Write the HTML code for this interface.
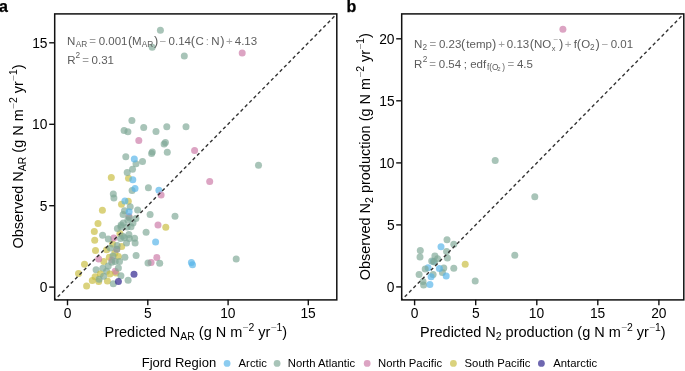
<!DOCTYPE html>
<html><head><meta charset="utf-8"><style>
html,body{margin:0;padding:0;background:#fff;}
svg{display:block;will-change:transform;}
text{font-family:"Liberation Sans",sans-serif;}
</style></head><body>
<svg width="685" height="371" viewBox="0 0 685 371">
<rect width="685" height="371" fill="#fff"/>
<defs>
<clipPath id="ca"><rect x="54.7" y="13.9" width="282.1" height="286"/></clipPath>
<clipPath id="cb"><rect x="401.7" y="13.9" width="282.1" height="286"/></clipPath>
</defs>
<text x="-0.9" y="11.8" font-size="16" font-weight="bold" stroke="#000" stroke-width="0.25">a</text>
<text x="346.5" y="11.7" font-size="16" font-weight="bold" stroke="#000" stroke-width="0.25">b</text>
<g clip-path="url(#ca)" fill-opacity="0.68">
<circle cx="129.0" cy="216.4" r="3.5" fill="#CC79A7"/>
<circle cx="111.3" cy="177.4" r="3.5" fill="#c9bd40"/>
<circle cx="128.5" cy="178.2" r="3.5" fill="#c9bd40"/>
<circle cx="128.3" cy="201.2" r="3.5" fill="#c9bd40"/>
<circle cx="121.5" cy="204.2" r="3.5" fill="#c9bd40"/>
<circle cx="102.4" cy="210.2" r="3.5" fill="#c9bd40"/>
<circle cx="98.0" cy="223.5" r="3.5" fill="#c9bd40"/>
<circle cx="165.8" cy="227.2" r="3.5" fill="#c9bd40"/>
<circle cx="94.3" cy="231.6" r="3.5" fill="#c9bd40"/>
<circle cx="119.9" cy="233.6" r="3.5" fill="#c9bd40"/>
<circle cx="94.7" cy="240.2" r="3.5" fill="#c9bd40"/>
<circle cx="112.6" cy="244.0" r="3.5" fill="#c9bd40"/>
<circle cx="121.7" cy="246.6" r="3.5" fill="#c9bd40"/>
<circle cx="106.6" cy="249.8" r="3.5" fill="#c9bd40"/>
<circle cx="95.5" cy="250.6" r="3.5" fill="#c9bd40"/>
<circle cx="114.8" cy="253.1" r="3.5" fill="#c9bd40"/>
<circle cx="109.3" cy="257.2" r="3.5" fill="#c9bd40"/>
<circle cx="118.4" cy="256.6" r="3.5" fill="#c9bd40"/>
<circle cx="103.8" cy="261.6" r="3.5" fill="#c9bd40"/>
<circle cx="84.5" cy="264.2" r="3.5" fill="#c9bd40"/>
<circle cx="78.5" cy="273.6" r="3.5" fill="#c9bd40"/>
<circle cx="116.0" cy="272.9" r="3.5" fill="#c9bd40"/>
<circle cx="92.3" cy="280.6" r="3.5" fill="#c9bd40"/>
<circle cx="86.6" cy="285.9" r="3.5" fill="#c9bd40"/>
<circle cx="242.2" cy="53.1" r="3.5" fill="#CC79A7"/>
<circle cx="138.8" cy="140.4" r="3.5" fill="#CC79A7"/>
<circle cx="194.6" cy="150.5" r="3.5" fill="#CC79A7"/>
<circle cx="209.7" cy="181.6" r="3.5" fill="#CC79A7"/>
<circle cx="158.0" cy="224.9" r="3.5" fill="#CC79A7"/>
<circle cx="113.8" cy="238.0" r="3.5" fill="#CC79A7"/>
<circle cx="116.8" cy="249.2" r="3.5" fill="#CC79A7"/>
<circle cx="156.8" cy="257.4" r="3.5" fill="#CC79A7"/>
<circle cx="98.7" cy="259.1" r="3.5" fill="#CC79A7"/>
<circle cx="112.0" cy="259.9" r="3.5" fill="#CC79A7"/>
<circle cx="151.1" cy="262.6" r="3.5" fill="#CC79A7"/>
<circle cx="115.2" cy="271.2" r="3.5" fill="#CC79A7"/>
<circle cx="160.4" cy="30.2" r="3.5" fill="#7fa897"/>
<circle cx="152.2" cy="47.2" r="3.5" fill="#7fa897"/>
<circle cx="184.3" cy="56.1" r="3.5" fill="#7fa897"/>
<circle cx="131.9" cy="120.5" r="3.5" fill="#7fa897"/>
<circle cx="124.1" cy="130.5" r="3.5" fill="#7fa897"/>
<circle cx="127.9" cy="131.8" r="3.5" fill="#7fa897"/>
<circle cx="143.7" cy="127.5" r="3.5" fill="#7fa897"/>
<circle cx="156.0" cy="131.5" r="3.5" fill="#7fa897"/>
<circle cx="166.8" cy="126.8" r="3.5" fill="#7fa897"/>
<circle cx="186.0" cy="126.8" r="3.5" fill="#7fa897"/>
<circle cx="165.4" cy="142.6" r="3.5" fill="#7fa897"/>
<circle cx="164.1" cy="143.9" r="3.5" fill="#7fa897"/>
<circle cx="152.3" cy="152.0" r="3.5" fill="#7fa897"/>
<circle cx="151.6" cy="153.6" r="3.5" fill="#7fa897"/>
<circle cx="167.3" cy="152.2" r="3.5" fill="#7fa897"/>
<circle cx="125.8" cy="156.8" r="3.5" fill="#7fa897"/>
<circle cx="142.5" cy="161.4" r="3.5" fill="#7fa897"/>
<circle cx="258.5" cy="165.2" r="3.5" fill="#7fa897"/>
<circle cx="136.0" cy="163.7" r="3.5" fill="#7fa897"/>
<circle cx="132.5" cy="169.2" r="3.5" fill="#7fa897"/>
<circle cx="127.2" cy="172.4" r="3.5" fill="#7fa897"/>
<circle cx="132.1" cy="190.4" r="3.5" fill="#7fa897"/>
<circle cx="148.4" cy="187.8" r="3.5" fill="#7fa897"/>
<circle cx="113.3" cy="194.1" r="3.5" fill="#7fa897"/>
<circle cx="113.9" cy="198.1" r="3.5" fill="#7fa897"/>
<circle cx="130.2" cy="206.7" r="3.5" fill="#7fa897"/>
<circle cx="124.5" cy="210.7" r="3.5" fill="#7fa897"/>
<circle cx="137.6" cy="210.1" r="3.5" fill="#7fa897"/>
<circle cx="150.1" cy="214.4" r="3.5" fill="#7fa897"/>
<circle cx="123.1" cy="214.6" r="3.5" fill="#7fa897"/>
<circle cx="135.9" cy="218.6" r="3.5" fill="#7fa897"/>
<circle cx="127.9" cy="220.0" r="3.5" fill="#7fa897"/>
<circle cx="129.3" cy="217.8" r="3.5" fill="#7fa897"/>
<circle cx="175.0" cy="216.2" r="3.5" fill="#7fa897"/>
<circle cx="123.3" cy="223.1" r="3.5" fill="#7fa897"/>
<circle cx="133.0" cy="223.1" r="3.5" fill="#7fa897"/>
<circle cx="121.1" cy="224.9" r="3.5" fill="#7fa897"/>
<circle cx="127.1" cy="227.0" r="3.5" fill="#7fa897"/>
<circle cx="117.4" cy="228.6" r="3.5" fill="#7fa897"/>
<circle cx="120.9" cy="226.8" r="3.5" fill="#7fa897"/>
<circle cx="131.0" cy="226.8" r="3.5" fill="#7fa897"/>
<circle cx="146.1" cy="232.2" r="3.5" fill="#7fa897"/>
<circle cx="102.6" cy="235.2" r="3.5" fill="#7fa897"/>
<circle cx="128.9" cy="234.5" r="3.5" fill="#7fa897"/>
<circle cx="122.7" cy="236.2" r="3.5" fill="#7fa897"/>
<circle cx="108.3" cy="239.0" r="3.5" fill="#7fa897"/>
<circle cx="120.5" cy="238.5" r="3.5" fill="#7fa897"/>
<circle cx="124.5" cy="237.7" r="3.5" fill="#7fa897"/>
<circle cx="129.4" cy="238.5" r="3.5" fill="#7fa897"/>
<circle cx="134.6" cy="238.2" r="3.5" fill="#7fa897"/>
<circle cx="126.5" cy="242.9" r="3.5" fill="#7fa897"/>
<circle cx="135.1" cy="243.0" r="3.5" fill="#7fa897"/>
<circle cx="117.2" cy="245.4" r="3.5" fill="#7fa897"/>
<circle cx="110.3" cy="248.1" r="3.5" fill="#7fa897"/>
<circle cx="116.8" cy="249.2" r="3.5" fill="#7fa897"/>
<circle cx="113.0" cy="256.1" r="3.5" fill="#7fa897"/>
<circle cx="124.9" cy="257.2" r="3.5" fill="#7fa897"/>
<circle cx="136.1" cy="255.6" r="3.5" fill="#7fa897"/>
<circle cx="115.2" cy="261.4" r="3.5" fill="#7fa897"/>
<circle cx="119.5" cy="261.4" r="3.5" fill="#7fa897"/>
<circle cx="111.7" cy="262.2" r="3.5" fill="#7fa897"/>
<circle cx="148.0" cy="262.9" r="3.5" fill="#7fa897"/>
<circle cx="159.7" cy="263.2" r="3.5" fill="#7fa897"/>
<circle cx="108.2" cy="265.9" r="3.5" fill="#7fa897"/>
<circle cx="102.8" cy="268.2" r="3.5" fill="#7fa897"/>
<circle cx="118.4" cy="268.1" r="3.5" fill="#7fa897"/>
<circle cx="96.1" cy="269.8" r="3.5" fill="#7fa897"/>
<circle cx="106.6" cy="271.2" r="3.5" fill="#7fa897"/>
<circle cx="120.9" cy="275.7" r="3.5" fill="#7fa897"/>
<circle cx="128.1" cy="280.2" r="3.5" fill="#7fa897"/>
<circle cx="236.2" cy="258.9" r="3.5" fill="#7fa897"/>
<circle cx="134.3" cy="159.0" r="3.5" fill="#56B4E9"/>
<circle cx="132.8" cy="179.7" r="3.5" fill="#56B4E9"/>
<circle cx="135.0" cy="188.4" r="3.5" fill="#56B4E9"/>
<circle cx="158.9" cy="190.2" r="3.5" fill="#56B4E9"/>
<circle cx="124.9" cy="201.1" r="3.5" fill="#56B4E9"/>
<circle cx="129.1" cy="211.8" r="3.5" fill="#56B4E9"/>
<circle cx="155.6" cy="242.0" r="3.5" fill="#56B4E9"/>
<circle cx="191.4" cy="262.6" r="3.5" fill="#56B4E9"/>
<circle cx="192.5" cy="264.8" r="3.5" fill="#56B4E9"/>
<circle cx="134.0" cy="274.2" r="3.5" fill="#2a1f8a"/>
<circle cx="100.3" cy="274.1" r="3.5" fill="#c9bd40"/>
<circle cx="109.9" cy="273.9" r="3.5" fill="#c9bd40"/>
<circle cx="95.1" cy="276.8" r="3.5" fill="#c9bd40"/>
<circle cx="98.7" cy="281.6" r="3.5" fill="#c9bd40"/>
<circle cx="107.4" cy="281.1" r="3.5" fill="#c9bd40"/>
<circle cx="103.6" cy="276.2" r="3.5" fill="#7fa897"/>
<circle cx="99.1" cy="279.2" r="3.5" fill="#7fa897"/>
<circle cx="113.3" cy="283.8" r="3.5" fill="#7fa897"/>
<circle cx="118.4" cy="281.6" r="3.5" fill="#2a1f8a"/>
<circle cx="161.1" cy="195.0" r="3.5" fill="#CC79A7"/>
</g>
<line x1="54.7" y1="299.9" x2="336.8" y2="13.9" stroke="#333" stroke-width="1.4" stroke-dasharray="3.4 2.8" stroke-dashoffset="1.9" clip-path="url(#ca)"/>
<g clip-path="url(#cb)" fill-opacity="0.68">
<circle cx="433.3" cy="261.4" r="3.5" fill="#56B4E9"/>
<circle cx="562.9" cy="29.2" r="3.5" fill="#CC79A7"/>
<circle cx="495.2" cy="160.6" r="3.5" fill="#7fa897"/>
<circle cx="534.8" cy="196.7" r="3.5" fill="#7fa897"/>
<circle cx="514.8" cy="255.2" r="3.5" fill="#7fa897"/>
<circle cx="475.2" cy="281.1" r="3.5" fill="#7fa897"/>
<circle cx="465.2" cy="264.2" r="3.5" fill="#c9bd40"/>
<circle cx="447.0" cy="239.8" r="3.5" fill="#7fa897"/>
<circle cx="453.8" cy="244.2" r="3.5" fill="#7fa897"/>
<circle cx="441.0" cy="246.8" r="3.5" fill="#56B4E9"/>
<circle cx="420.3" cy="250.5" r="3.5" fill="#7fa897"/>
<circle cx="420.0" cy="256.9" r="3.5" fill="#7fa897"/>
<circle cx="446.6" cy="251.4" r="3.5" fill="#7fa897"/>
<circle cx="447.4" cy="257.9" r="3.5" fill="#7fa897"/>
<circle cx="434.9" cy="256.1" r="3.5" fill="#7fa897"/>
<circle cx="437.6" cy="258.8" r="3.5" fill="#7fa897"/>
<circle cx="431.7" cy="260.9" r="3.5" fill="#7fa897"/>
<circle cx="434.4" cy="261.9" r="3.5" fill="#7fa897"/>
<circle cx="428.1" cy="267.7" r="3.5" fill="#56B4E9"/>
<circle cx="425.2" cy="269.1" r="3.5" fill="#7fa897"/>
<circle cx="443.8" cy="268.1" r="3.5" fill="#7fa897"/>
<circle cx="453.8" cy="268.2" r="3.5" fill="#7fa897"/>
<circle cx="442.4" cy="272.4" r="3.5" fill="#7fa897"/>
<circle cx="446.2" cy="276.1" r="3.5" fill="#56B4E9"/>
<circle cx="419.1" cy="274.4" r="3.5" fill="#7fa897"/>
<circle cx="433.1" cy="274.6" r="3.5" fill="#7fa897"/>
<circle cx="431.1" cy="276.8" r="3.5" fill="#56B4E9"/>
<circle cx="423.0" cy="281.6" r="3.5" fill="#7fa897"/>
<circle cx="423.6" cy="284.9" r="3.5" fill="#7fa897"/>
<circle cx="429.9" cy="284.6" r="3.5" fill="#56B4E9"/>
<circle cx="439.4" cy="268.6" r="3.5" fill="#56B4E9"/>
</g>
<line x1="401.7" y1="299.9" x2="683.8" y2="13.9" stroke="#333" stroke-width="1.4" stroke-dasharray="3.4 2.8" stroke-dashoffset="1.9" clip-path="url(#cb)"/>
<text x="66.96" y="44.50" font-size="11.5" fill="#5c5c5c">N</text>
<text x="75.78" y="46.50" font-size="8.28" fill="#5c5c5c">AR</text>
<text x="89.24" y="44.50" font-size="11.5" fill="#a0a0a0">=</text>
<text x="98.65" y="44.50" font-size="11.5" fill="#5c5c5c">0.001</text>
<text x="128.11" y="44.50" font-size="12.8" fill="#5c5c5c">(</text>
<text x="131.96" y="44.50" font-size="11.5" fill="#5c5c5c">M</text>
<text x="141.68" y="46.50" font-size="8.28" fill="#5c5c5c">AR</text>
<text x="154.12" y="44.50" font-size="12.8" fill="#5c5c5c">)</text>
<text x="159.53" y="44.50" font-size="11.5" fill="#a0a0a0">−</text>
<text x="168.55" y="44.50" font-size="11.5" fill="#5c5c5c">0.14</text>
<text x="190.81" y="44.50" font-size="12.8" fill="#5c5c5c">(</text>
<text x="195.62" y="44.50" font-size="11.5" fill="#5c5c5c">C</text>
<text x="205.65" y="44.50" font-size="11.5" fill="#a0a0a0">:</text>
<text x="211.36" y="44.50" font-size="11.5" fill="#5c5c5c">N</text>
<text x="220.33" y="44.50" font-size="12.8" fill="#5c5c5c">)</text>
<text x="226.04" y="44.50" font-size="11.5" fill="#a0a0a0">+</text>
<text x="234.74" y="44.50" font-size="11.5" fill="#5c5c5c">4.13</text>
<text x="67.16" y="64.30" font-size="11.5" fill="#5c5c5c">R</text>
<text x="75.58" y="58.30" font-size="8.28" fill="#5c5c5c">2</text>
<text x="82.14" y="64.30" font-size="11.5" fill="#a0a0a0">=</text>
<text x="91.55" y="64.30" font-size="11.5" fill="#5c5c5c">0.31</text>
<text x="414.06" y="47.90" font-size="11.5" fill="#5c5c5c">N</text>
<text x="422.58" y="49.90" font-size="8.28" fill="#5c5c5c">2</text>
<text x="429.54" y="47.90" font-size="11.5" fill="#a0a0a0">=</text>
<text x="438.95" y="47.90" font-size="11.5" fill="#5c5c5c">0.23</text>
<text x="461.11" y="47.90" font-size="12.8" fill="#5c5c5c">(</text>
<text x="466.33" y="47.90" font-size="11.5" fill="#5c5c5c">temp</text>
<text x="492.12" y="47.90" font-size="12.8" fill="#5c5c5c">)</text>
<text x="498.24" y="47.90" font-size="11.5" fill="#a0a0a0">+</text>
<text x="506.85" y="47.90" font-size="11.5" fill="#5c5c5c">0.13</text>
<text x="529.81" y="47.90" font-size="12.8" fill="#5c5c5c">(</text>
<text x="533.96" y="47.90" font-size="11.5" fill="#5c5c5c">NO</text>
<text x="551.72" y="50.70" font-size="7.4" fill="#5c5c5c">x</text>
<text x="553.49" y="42.30" font-size="8.28" fill="#a0a0a0">−</text>
<text x="559.02" y="47.90" font-size="12.8" fill="#5c5c5c">)</text>
<text x="564.74" y="47.90" font-size="11.5" fill="#a0a0a0">+</text>
<text x="573.84" y="47.90" font-size="11.5" fill="#5c5c5c">f</text>
<text x="576.71" y="47.90" font-size="12.8" fill="#5c5c5c">(</text>
<text x="581.36" y="47.90" font-size="11.5" fill="#5c5c5c">O</text>
<text x="589.98" y="49.90" font-size="8.28" fill="#5c5c5c">2</text>
<text x="595.52" y="47.90" font-size="12.8" fill="#5c5c5c">)</text>
<text x="601.43" y="47.90" font-size="11.5" fill="#a0a0a0">−</text>
<text x="610.65" y="47.90" font-size="11.5" fill="#5c5c5c">0.01</text>
<text x="414.06" y="67.70" font-size="11.5" fill="#5c5c5c">R</text>
<text x="422.68" y="61.70" font-size="8.28" fill="#5c5c5c">2</text>
<text x="429.34" y="67.70" font-size="11.5" fill="#a0a0a0">=</text>
<text x="438.75" y="67.70" font-size="11.5" fill="#5c5c5c">0.54</text>
<text x="463.87" y="67.70" font-size="11.5" fill="#5c5c5c">;</text>
<text x="470.21" y="67.70" font-size="11.5" fill="#5c5c5c">edf</text>
<text x="486.88" y="69.90" font-size="8.28" fill="#5c5c5c">f(O</text>
<text x="497.30" y="71.10" font-size="5.961599999999999" fill="#5c5c5c">2</text>
<text x="502.35" y="69.90" font-size="8.28" fill="#5c5c5c">)</text>
<text x="507.44" y="67.70" font-size="11.5" fill="#a0a0a0">=</text>
<text x="516.94" y="67.70" font-size="11.5" fill="#5c5c5c">4.5</text>
<rect x="54.7" y="13.9" width="282.1" height="286.0" fill="none" stroke="#111" stroke-width="1.5"/>
<rect x="401.7" y="13.9" width="282.1" height="286.0" fill="none" stroke="#111" stroke-width="1.5"/>
<g stroke="#111" stroke-width="1.4">
<line x1="49.2" y1="287.1" x2="54.8" y2="287.1"/>
<line x1="49.2" y1="205.7" x2="54.8" y2="205.7"/>
<line x1="49.2" y1="124.3" x2="54.8" y2="124.3"/>
<line x1="49.2" y1="42.8" x2="54.8" y2="42.8"/>
<line x1="67.5" y1="299.7" x2="67.5" y2="305.3"/>
<line x1="147.8" y1="299.7" x2="147.8" y2="305.3"/>
<line x1="228.1" y1="299.7" x2="228.1" y2="305.3"/>
<line x1="308.3" y1="299.7" x2="308.3" y2="305.3"/>
<line x1="396.2" y1="286.9" x2="401.8" y2="286.9"/>
<line x1="396.2" y1="224.9" x2="401.8" y2="224.9"/>
<line x1="396.2" y1="162.9" x2="401.8" y2="162.9"/>
<line x1="396.2" y1="100.8" x2="401.8" y2="100.8"/>
<line x1="396.2" y1="38.8" x2="401.8" y2="38.8"/>
<line x1="414.6" y1="299.7" x2="414.6" y2="305.3"/>
<line x1="475.7" y1="299.7" x2="475.7" y2="305.3"/>
<line x1="536.8" y1="299.7" x2="536.8" y2="305.3"/>
<line x1="597.8" y1="299.7" x2="597.8" y2="305.3"/>
<line x1="658.9" y1="299.7" x2="658.9" y2="305.3"/>
</g>
<text x="39.76" y="292.00" font-size="13.8" fill="#000">0</text>
<text x="39.80" y="210.60" font-size="13.8" fill="#000">5</text>
<text x="32.09" y="129.20" font-size="13.8" fill="#000">10</text>
<text x="32.13" y="47.70" font-size="13.8" fill="#000">15</text>
<text x="63.66" y="317.60" font-size="13.8" fill="#000">0</text>
<text x="143.98" y="317.60" font-size="13.8" fill="#000">5</text>
<text x="220.17" y="317.60" font-size="13.8" fill="#000">10</text>
<text x="300.39" y="317.60" font-size="13.8" fill="#000">15</text>
<text x="386.86" y="291.80" font-size="13.8" fill="#000">0</text>
<text x="386.90" y="229.80" font-size="13.8" fill="#000">5</text>
<text x="379.19" y="167.80" font-size="13.8" fill="#000">10</text>
<text x="379.23" y="105.70" font-size="13.8" fill="#000">15</text>
<text x="379.19" y="43.70" font-size="13.8" fill="#000">20</text>
<text x="410.76" y="317.60" font-size="13.8" fill="#000">0</text>
<text x="471.88" y="317.60" font-size="13.8" fill="#000">5</text>
<text x="528.87" y="317.60" font-size="13.8" fill="#000">10</text>
<text x="589.89" y="317.60" font-size="13.8" fill="#000">15</text>
<text x="651.15" y="317.60" font-size="13.8" fill="#000">20</text>
<text x="195.85" y="337.0" font-size="14.5" text-anchor="middle"><tspan dy="0.00">Predicted N</tspan><tspan font-size="10.44" dy="2.90">AR</tspan><tspan dy="-2.90"> (g N m</tspan><tspan font-size="10.44" dy="-6.24" fill="#888">−</tspan><tspan font-size="10.44">2</tspan><tspan dy="6.24"> yr</tspan><tspan font-size="10.44" dy="-6.24" fill="#888">−</tspan><tspan font-size="10.44">1</tspan><tspan dy="6.24">)</tspan></text>
<text x="542.85" y="337.0" font-size="14.5" text-anchor="middle"><tspan dy="0.00">Predicted N</tspan><tspan font-size="10.44" dy="2.90">2</tspan><tspan dy="-2.90"> production (g N m</tspan><tspan font-size="10.44" dy="-6.24" fill="#888">−</tspan><tspan font-size="10.44">2</tspan><tspan dy="6.24"> yr</tspan><tspan font-size="10.44" dy="-6.24" fill="#888">−</tspan><tspan font-size="10.44">1</tspan><tspan dy="6.24">)</tspan></text>
<text transform="translate(22.8 156.5) rotate(-90)" x="0" y="0" font-size="14.5" text-anchor="middle"><tspan dy="0.00">Observed N</tspan><tspan font-size="10.44" dy="2.90">AR</tspan><tspan dy="-2.90"> (g N m</tspan><tspan font-size="10.44" dy="-6.24" fill="#888">−</tspan><tspan font-size="10.44">2</tspan><tspan dy="6.24"> yr</tspan><tspan font-size="10.44" dy="-6.24" fill="#888">−</tspan><tspan font-size="10.44">1</tspan><tspan dy="6.24">)</tspan></text>
<text transform="translate(369.8 156.7) rotate(-90)" x="0" y="0" font-size="14.5" text-anchor="middle"><tspan dy="0.00">Observed N</tspan><tspan font-size="10.44" dy="2.90">2</tspan><tspan dy="-2.90"> production (g N m</tspan><tspan font-size="10.44" dy="-6.24" fill="#888">−</tspan><tspan font-size="10.44">2</tspan><tspan dy="6.24"> yr</tspan><tspan font-size="10.44" dy="-6.24" fill="#888">−</tspan><tspan font-size="10.44">1</tspan><tspan dy="6.24">)</tspan></text>
<text x="141.73" y="367.40" font-size="13.0" fill="#000">Fjord Region</text>
<circle cx="227.1" cy="363.4" r="3.4" fill="#56B4E9" fill-opacity="0.68"/>
<text x="238.58" y="367.20" font-size="11.3" fill="#000">Arctic</text>
<circle cx="277.1" cy="363.4" r="3.4" fill="#7fa897" fill-opacity="0.68"/>
<text x="287.87" y="367.20" font-size="11.3" fill="#000">North Atlantic</text>
<circle cx="367.2" cy="363.4" r="3.4" fill="#CC79A7" fill-opacity="0.68"/>
<text x="378.07" y="367.20" font-size="11.3" fill="#000">North Pacific</text>
<circle cx="453.4" cy="363.4" r="3.4" fill="#c9bd40" fill-opacity="0.68"/>
<text x="464.59" y="367.20" font-size="11.3" fill="#000">South Pacific</text>
<circle cx="541.4" cy="363.4" r="3.4" fill="#2a1f8a" fill-opacity="0.68"/>
<text x="553.28" y="367.20" font-size="11.3" fill="#000">Antarctic</text>
</svg>
</body></html>
